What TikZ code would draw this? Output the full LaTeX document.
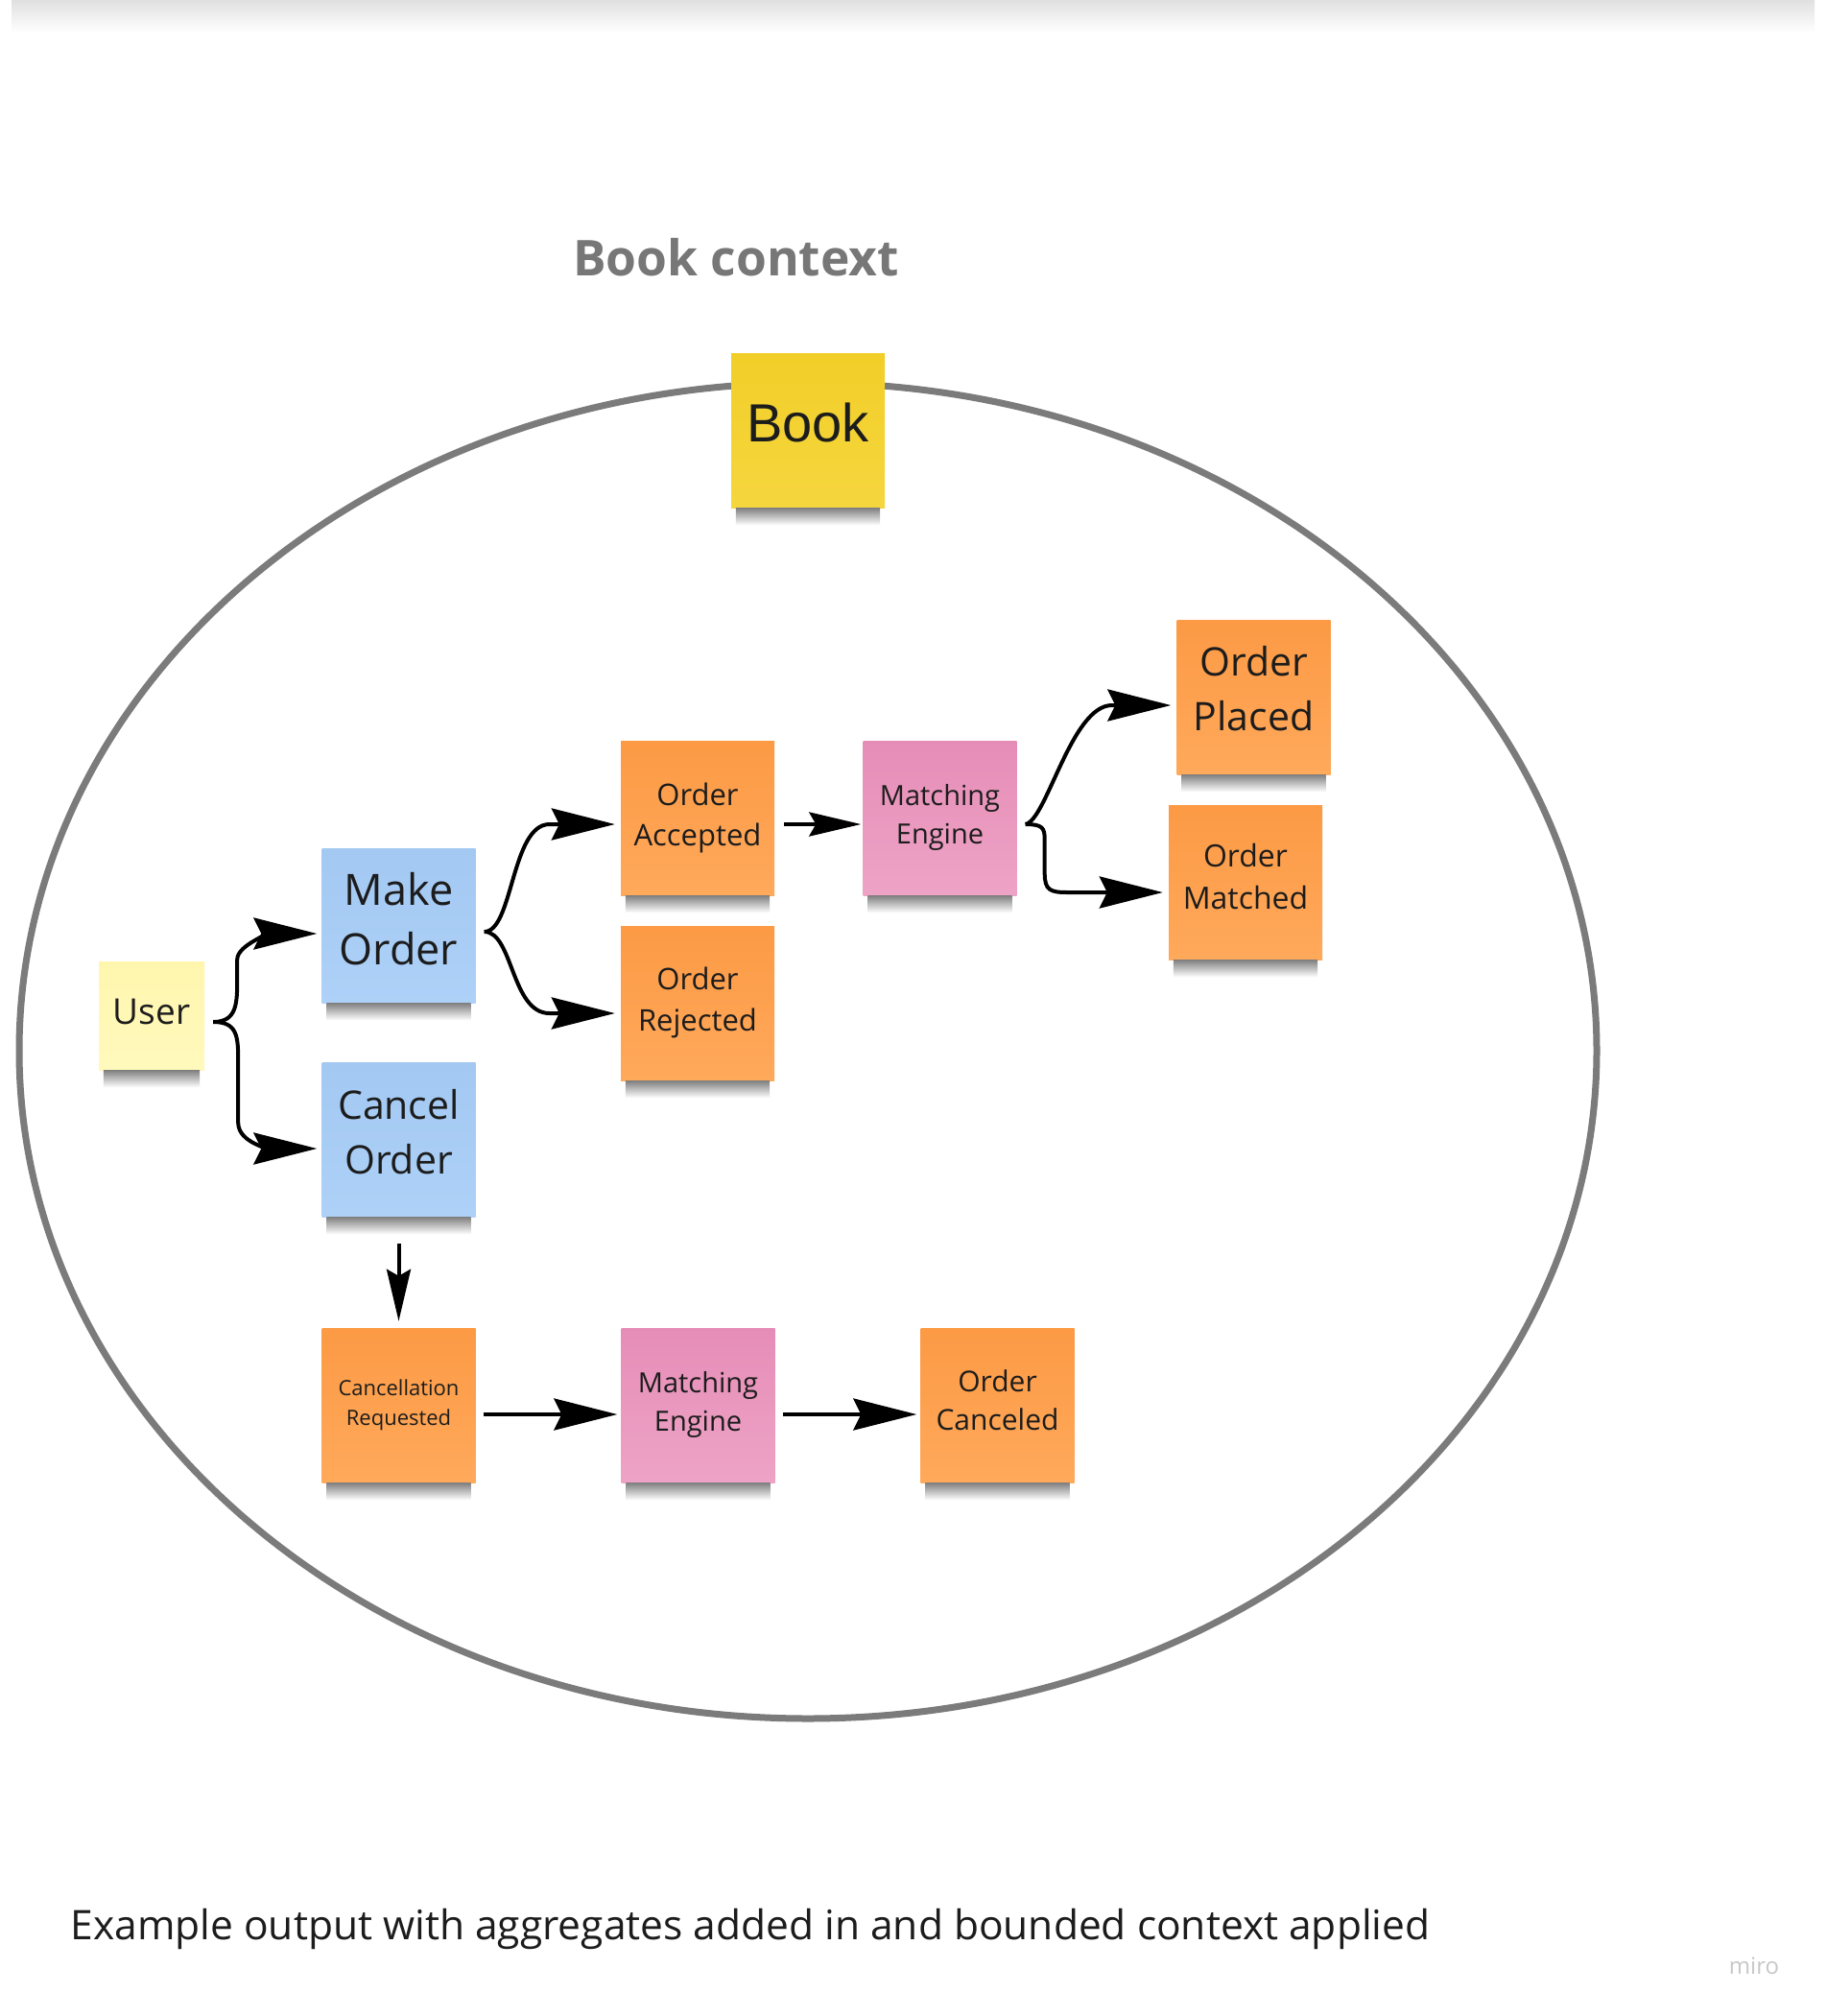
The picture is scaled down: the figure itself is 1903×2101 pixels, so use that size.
\documentclass[tikz,border=0pt]{standalone}
\usepackage{fontspec}
\setmainfont{Open Sans}
\newfontfamily\aggrfont{Liberation Sans}
\usetikzlibrary{arrows.meta,fadings}
\definecolor{ctxgray}{HTML}{7B7B7B}
\definecolor{titlegray}{HTML}{777777}
\definecolor{notetext}{HTML}{1C1C1C}
\definecolor{evtop}{HTML}{FC9A45}
\definecolor{evbot}{HTML}{FFA95B}
\definecolor{cmdtop}{HTML}{A3C8F2}
\definecolor{cmdbot}{HTML}{ADD1F7}
\definecolor{pktop}{HTML}{E68DB7}
\definecolor{pkbot}{HTML}{EEA3C6}
\definecolor{usrtop}{HTML}{FFF6AE}
\definecolor{usrbot}{HTML}{FFF9BC}
\definecolor{bktop}{HTML}{F2CE28}
\definecolor{bkbot}{HTML}{F5D63E}
% depth under the last line, lifts the text inside its note
\newcommand{\lift}[1]{\rule[-#1]{0pt}{#1}}
% shadow fades out only near its two ends
\pgfdeclarehorizontalshading{shadowends}{100bp}{color(0bp)=(black); color(18bp)=(white); color(82bp)=(white); color(100bp)=(black)}
\pgfdeclarefading{fade ends}{\pgfuseshading{shadowends}}

\begin{document}
\begin{tikzpicture}[
		x=1pt, y=-1pt,
		note/.style={rectangle, inner sep=0pt, minimum width=160pt, minimum height=161pt, align=center, text=notetext},
		event/.style={note, top color=evtop, bottom color=evbot},
		cmd/.style={note, top color=cmdtop, bottom color=cmdbot},
		policy/.style={note, top color=pktop, bottom color=pkbot},
		actor/.style={note, minimum width=110pt, minimum height=113pt, top color=usrtop, bottom color=usrbot},
		aggr/.style={note, top color=bktop, bottom color=bkbot},
		fs/.style 2 args={font=\fontsize{#1}{#2}\selectfont},
		conn/.style={-{Stealth[length=66pt,width=33pt,inset=8pt]}, line width=4pt},
		small/.style={-{Stealth[length=54pt,width=25pt,inset=7pt]}}]
	\useasboundingbox (0,0) rectangle (1903,2101);
	\fill[white] (0,0) rectangle (1903,2101);
	\shade[top color=black!12, bottom color=white] (12,0) rectangle (1891,34);
	%% bounded context
	\draw[ctxgray, line width=7pt] (842,1095) ellipse [x radius=822, y radius=696];
	\node (title) at (767,287) [anchor=base, font=\bfseries\fontsize{51.5}{60}\selectfont, text=titlegray] {Book context};
	%% sticky notes
	\node (book) at (842,448.5) [aggr, font=\aggrfont\fontsize{56}{64}\selectfont, text height=40pt, text depth=17pt] {Book};
	\node (user) at (158,1058.5) [actor, fs={37}{48}] {User\lift{8pt}};
	\node (mkorder) at (415.5,964.5) [cmd, fs={45}{62}] {Make\\Order\lift{14pt}};
	\node (cnorder) at (415.5,1187.5) [cmd, fs={41}{57}] {Cancel\\Order\lift{16pt}};
	\node (accepted) at (727,852.5) [event, fs={31}{42}] {Order\\Accepted\lift{8pt}};
	\node (rejected) at (727,1045.5) [event, fs={31}{43}] {Order\\Rejected\lift{8pt}};
	\node (engine) at (979.5,852.5) [policy, fs={29}{40}] {Matching\\Engine\lift{8pt}};
	\node (placed) at (1306.5,726.5) [event, fs={41}{57}] {Order\\Placed\lift{18pt}};
	\node (matched) at (1298,919.5) [event, fs={32}{44}] {Order\\Matched\lift{12pt}};
	\node (cnreq) at (415.5,1464.5) [event, fs={22}{31}] {Cancellation\\Requested\lift{2pt}};
	\node (engine2) at (727.5,1464.5) [policy, fs={29}{40}] {Matching\\Engine\lift{8pt}};
	\node (canceled) at (1039.5,1464.5) [event, fs={30}{40}] {Order\\Canceled\lift{10pt}};
	%% shadows under the notes
	\foreach \n in {book,user,mkorder,cnorder,accepted,rejected,engine,placed,matched,cnreq,engine2,canceled}
		\shade[top color=black!50, bottom color=white, path fading=fade ends] ([xshift=5pt]\n.south west) rectangle ([xshift=-5pt,yshift=-18pt]\n.south east);
	%% connectors
	\draw[conn] ([xshift=9pt,yshift=-6.5pt]user.east) .. controls +(25,0) and +(0,25) .. ++(25,-45) -- ++(0,-20)
		.. controls +(0,-16) and +(-45,0) .. ([xshift=-5pt,yshift=-8.5pt]mkorder.west);
	\draw[conn] ([xshift=9pt,yshift=-6.5pt]user.east) .. controls +(25,0) and +(0,-25) .. ++(26,40) -- ++(0,65)
		.. controls +(0,22) and +(-45,0) .. ([xshift=-5pt,yshift=-9.5pt]cnorder.west);
	\draw[conn] ([xshift=9pt,yshift=-6.5pt]mkorder.east) .. controls +(30,0) and +(-40,0) .. ++(68,-112)
		-- ([xshift=-6pt,yshift=-6.5pt]accepted.west);
	\draw[conn] ([xshift=9pt,yshift=-6.5pt]mkorder.east) .. controls +(30,0) and +(-40,0) .. ++(68,85)
		-- ([xshift=-6pt,yshift=-10.5pt]rejected.west);
	\draw[conn, small] ([xshift=10pt,yshift=-6.5pt]accepted.east) -- ([xshift=-2pt,yshift=-6.5pt]engine.west);
	\draw[conn] ([xshift=9pt,yshift=-6.5pt]engine.east) .. controls +(22,-4) and +(-42,0) .. ++(90,-124)
		-- ([xshift=-6pt,yshift=-8.5pt]placed.west);
	\draw[conn] ([xshift=9pt,yshift=-6.5pt]engine.east) .. controls +(18,0) and +(0,-12) .. ++(20,16) -- ++(0,35)
		.. controls +(0,18) and +(-18,0) .. ++(24,20) -- ([xshift=-6pt,yshift=-10.5pt]matched.west);
	\draw[conn, small] ([yshift=-28pt]cnorder.south) -- ([yshift=7pt]cnreq.north);
	\draw[conn] ([xshift=8pt,yshift=-9.5pt]cnreq.east) -- ([xshift=-4pt,yshift=-9.5pt]engine2.west);
	\draw[conn] ([xshift=8pt,yshift=-9.5pt]engine2.east) -- ([xshift=-4pt,yshift=-9.5pt]canceled.west);
	%% caption
	\node (caption) at (70,2021) [anchor=base west, fs={42.5}{50}, text=notetext] {Example output with aggregates added in and bounded context applied};
	\node (miro) at (1828,2049) [fs={24}{28}, text=black!22] {miro};
\end{tikzpicture}
\end{document}
